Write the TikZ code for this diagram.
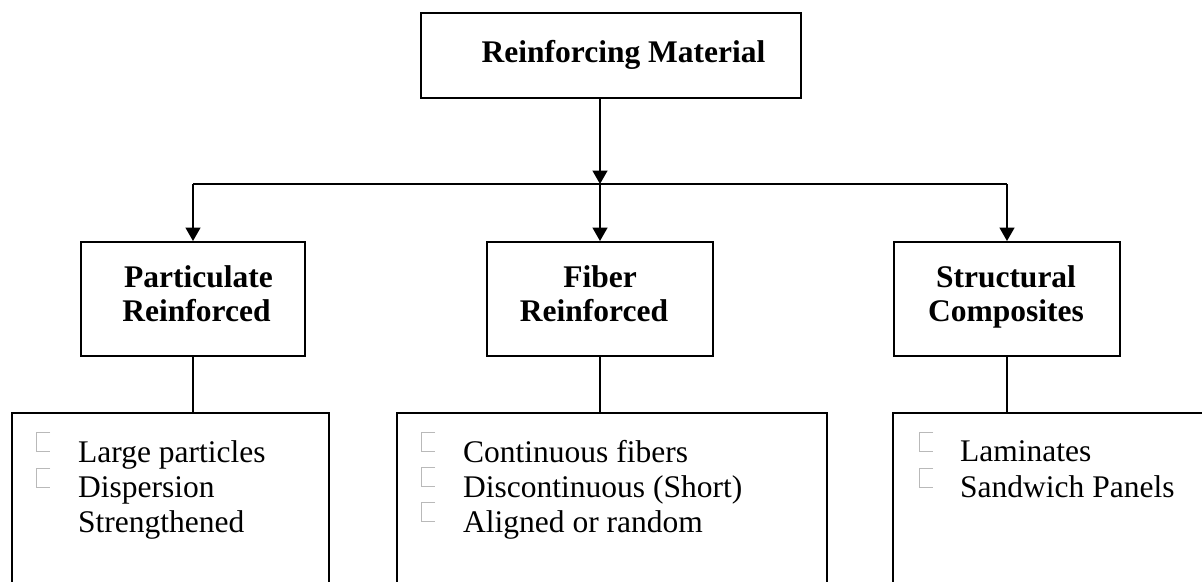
\documentclass[tikz,border=0pt]{standalone}
\usepackage{fontspec}
\setmainfont{Liberation Serif}
\usetikzlibrary{arrows.meta}

\begin{document}
\begin{tikzpicture}[x=1pt,y=-1pt,
  box/.style={draw,line width=2pt,inner sep=0pt,minimum width=#1},
  title/.style={font=\fontsize{31.5}{35}\selectfont\bfseries,inner sep=0pt,anchor=base},
  item/.style={font=\fontsize{31.5}{35}\selectfont,inner sep=0pt,anchor=base west},
  conn/.style={line width=1.6pt,-{Triangle[length=13.5pt,width=15pt]}},
  link/.style={line width=1.6pt},
  stem/.style={line width=1.3pt},
  hollowmark/.pic={\draw[gray!55,line width=0.8pt] (14,0) -- (0,0) -- (0,19) -- (14,19);}
]
\clip (0,0) rectangle (1202,581);
\fill[white] (0,0) rectangle (1202,581);

% top level
\node[box=380pt,minimum height=85pt] (top) at (611,55.5) {};
\node[title] (toptxt) at (623.5,62) {Reinforcing Material};

% second level
\node[box=224pt,minimum height=114pt] (part) at (193,299) {};
\node[box=226pt,minimum height=114pt] (fib)  at (600,299) {};
\node[box=226pt,minimum height=114pt] (str)  at (1007,299) {};

\node[title] (part1) at (198.5,287) {Particulate};
\node[title] (part2) at (196.5,321) {Reinforced};
\node[title] (fib1)  at (600,287) {Fiber};
\node[title] (fib2)  at (594,321) {Reinforced};
\node[title] (str1)  at (1006,287) {Structural};
\node[title] (str2)  at (1006,321) {Composites};

% branching bar
\coordinate (bar) at (600,184);
\draw[conn] (bar |- top.south) -- (bar);
\draw[link] (part.north |- bar) -- (str.north |- bar);
\draw[conn] (part.north |- bar) -- (part.north);
\draw[conn] (bar) -- (fib.north);
\draw[conn] (str.north |- bar) -- (str.north);

% lists
\node[box=317pt,minimum height=190pt] (partlist) at (170.5,508) {};
\node[box=430pt,minimum height=190pt] (fiblist)  at (612,508) {};
\node[box=350pt,minimum height=190pt] (strlist)  at (1068,508) {};

\draw[stem] (part.south) -- (part.south |- partlist.north);
\draw[stem] (fib.south)  -- (fib.south |- fiblist.north);
\draw[stem] (str.south)  -- (str.south |- strlist.north);

% particulate items
\pic at (36,432) {hollowmark};
\pic at (36,468) {hollowmark};
\node[item] (pl1) at (78,462) {Large particles};
\node[item] (pl2) at (78,497) {Dispersion};
\node[item] (pl3) at (78,532) {Strengthened};

% fiber items
\pic at (421,432) {hollowmark};
\pic at (421,467) {hollowmark};
\pic at (421,502) {hollowmark};
\node[item] (fl1) at (463,462) {Continuous fibers};
\node[item] (fl2) at (463,497) {Discontinuous (Short)};
\node[item] (fl3) at (463,532) {Aligned or random};

% structural items
\pic at (919,432) {hollowmark};
\pic at (919,468) {hollowmark};
\node[item] (sl1) at (960,461) {Laminates};
\node[item] (sl2) at (960,497) {Sandwich Panels};
\end{tikzpicture}
\end{document}
